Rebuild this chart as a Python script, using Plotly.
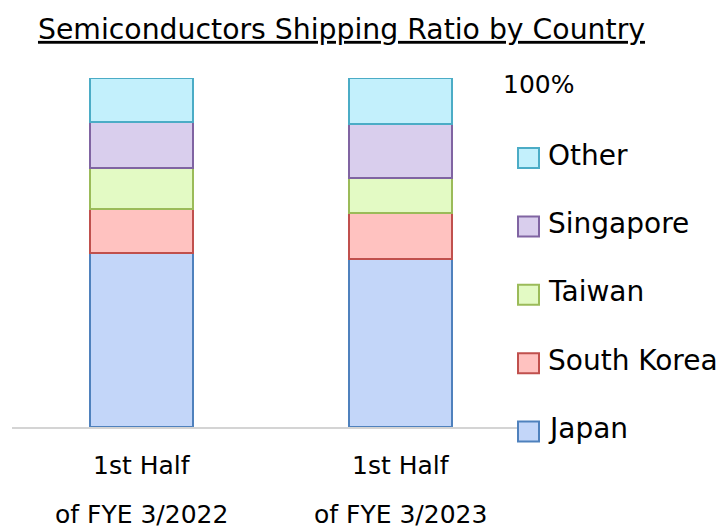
import plotly.graph_objects as go

# ---- data ----
categories = ["1st Half of FYE 3/2022", "1st Half of FYE 3/2023"]
label_line1 = ["1st Half", "1st Half"]
label_line2 = ["of FYE 3/2022", "of FYE 3/2023"]

series_names = ["Japan", "South Korea", "Taiwan", "Singapore", "Other"]
japan = [50.0, 48.0]
south_korea = [12.5, 13.4]
taiwan = [11.6, 9.9]
singapore = [13.4, 15.5]
other = [12.5, 13.2]
series_values = [japan, south_korea, taiwan, singapore, other]

fill_colors = ["#c3d6f9", "#ffc2c0", "#e3fac4", "#d9ceed", "#c3f0fc"]
line_colors = ["#4f81bd", "#c0504d", "#9bbb59", "#8064a2", "#4bacc6"]

title_text = "Semiconductors Shipping Ratio by Country"
top_label = "100%"

FONT = "DejaVu Sans"
# the page body has an 8px margin, so the figure is drawn 8px smaller
OFF = 8
WIN_W, WIN_H = 726, 530
W, H = WIN_W - OFF, WIN_H - OFF
PLOT_LEFT, PLOT_RIGHT, PLOT_TOP, PLOT_BOTTOM = 12, 530, 78, 427  # window pixels
L = PLOT_LEFT - OFF
T = PLOT_TOP - OFF
R = WIN_W - PLOT_RIGHT
B = WIN_H - PLOT_BOTTOM
PW, PH = W - L - R, H - T - B


def px_x(px):
    return (px - PLOT_LEFT) / PW


def px_y(py):
    return (PLOT_BOTTOM - py) / PH


fig = go.Figure()
for name, vals, fc, lc in zip(series_names, series_values, fill_colors, line_colors):
    fig.add_trace(go.Bar(
        x=categories, y=vals, name=name,
        marker=dict(color=fc, line=dict(color=lc, width=2)),
        showlegend=False,
    ))

annotations = []
shapes = []

# category labels (two lines)
for cat, l1, l2 in zip(categories, label_line1, label_line2):
    annotations.append(dict(x=cat, xref="x", y=px_y(465), yref="paper", text=l1,
                            showarrow=False, xanchor="center", yanchor="middle",
                            font=dict(family=FONT, size=25, color="#000000")))
    annotations.append(dict(x=cat, xref="x", y=px_y(514), yref="paper", text=l2,
                            showarrow=False, xanchor="center", yanchor="middle",
                            font=dict(family=FONT, size=25, color="#000000")))

# custom legend (top: Other ... bottom: Japan)
legend_top = 158
legend_step = 68.4
for i, (name, fc, lc) in enumerate(reversed(list(zip(series_names, fill_colors, line_colors)))):
    cy = legend_top + i * legend_step
    shapes.append(dict(type="rect", xref="paper", yref="paper",
                       x0=px_x(518), x1=px_x(539), y0=px_y(cy + 10), y1=px_y(cy - 10),
                       fillcolor=fc, line=dict(color=lc, width=2), layer="above"))
    annotations.append(dict(x=px_x(546), xref="paper", y=px_y(cy - 3), yref="paper",
                            text=name, showarrow=False, xanchor="left", yanchor="middle",
                            font=dict(family=FONT, size=28, color="#000000")))

annotations.append(dict(x=px_x(501), xref="paper", y=px_y(85), yref="paper",
                        text=top_label, showarrow=False, xanchor="left", yanchor="middle",
                        font=dict(family=FONT, size=25, color="#000000")))

fig.update_layout(
    width=W, height=H,
    margin=dict(l=L, r=R, t=T, b=B, pad=0),
    paper_bgcolor="white", plot_bgcolor="white",
    barmode="stack", bargap=0.6,
    title=dict(text="<u>" + title_text + "</u>", x=(341.5 - OFF) / W, xref="container",
               xanchor="center", y=1 - (29 - OFF) / H, yref="container", yanchor="middle",
               font=dict(family=FONT, size=28.3, color="#000000")),
    xaxis=dict(showticklabels=False, showgrid=False, zeroline=False, ticks="",
               showline=True, linecolor="#d4d4d4", linewidth=2),
    yaxis=dict(range=[0, 100], visible=False, showgrid=False, zeroline=False),
    annotations=annotations,
    shapes=shapes,
    showlegend=False,
)

fig.write_html("out.html")
